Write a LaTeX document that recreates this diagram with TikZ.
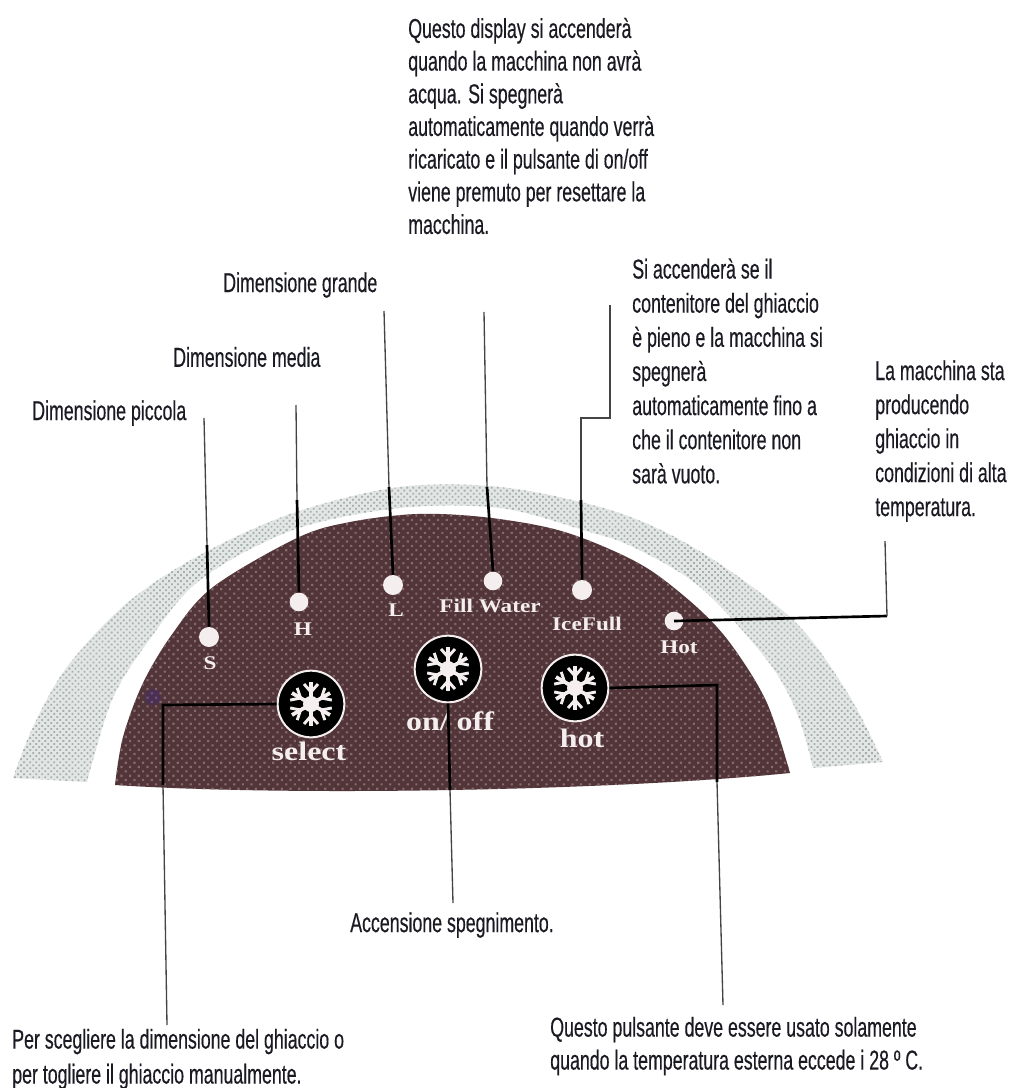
\documentclass[tikz,border=0pt]{standalone}
\usepackage{fontspec}
\usetikzlibrary{patterns.meta}
\setmainfont[FakeStretch=0.65,FakeBold=0.35]{Liberation Sans}
\newfontfamily\panelfont{Liberation Serif}[BoldFont={Liberation Serif Bold},BoldFeatures={FakeStretch=1.2},FakeStretch=1.2]
\definecolor{domecol}{HTML}{523539}
\definecolor{domedot}{HTML}{86696C}
\definecolor{arccol}{HTML}{E2E7E5}
\definecolor{arcdot}{HTML}{A6AFAC}
\definecolor{inkcol}{HTML}{1A1A22}
\definecolor{smudge}{HTML}{3F2590}
\definecolor{softwhite}{HTML}{F4EEEE}
\definecolor{thingrey}{HTML}{444444}
\tikzset{
  note/.style={anchor=west,inner sep=0pt,font=\fontsize{20.5}{20.5}\selectfont,text=inkcol},
  led/.style={circle,fill=softwhite,minimum size=15pt,inner sep=0pt},
  plabel/.style={inner sep=0pt,text=softwhite,font=\panelfont\bfseries\fontsize{14.5}{14.5}\selectfont},
  btnlabel/.style={inner sep=0pt,text=softwhite,font=\panelfont\bfseries\fontsize{20}{20}\selectfont},
  knob/.style={circle,fill=black,draw=softwhite,line width=1.5pt,minimum size=50pt,inner sep=0pt},
  wire/.style={draw=thingrey,line width=1pt},
  thickwire/.style={draw=black,line width=2pt},
  flake/.pic={
    \foreach \a in {0,60,...,300}{
      \draw[softwhite,line width=2.8pt,rotate=\a] (0,0) -- (0,22);
      \draw[softwhite,line width=2.2pt,rotate=\a] (-7,20) -- (0,12) -- (7,20);
    }
    \fill[softwhite] (0,0) circle (8);
  }
}
\def\arcshape{plot[smooth,tension=.55] coordinates {(13,778) (33,727) (67,667) (127,603) (200,555) (293,513) (400,487) (500,487) (600,507) (667,533) (733,573) (800,627) (850,697) (883,762)}
  -- plot[smooth,tension=.55] coordinates {(813,768) (797,713) (767,660) (700,587) (633,547) (583,530) (500,508) (400,508) (293,530) (200,580) (147,643) (112,700) (87,782)} -- cycle}
\def\domeshape{plot[smooth,tension=.55] coordinates {(115,785) (123,737) (143,683) (173,633) (213,587) (297,538) (350,522) (417,514) (483,517) (550,528) (600,545) (650,570) (700,610) (733,647) (767,703) (790,773)}
  .. controls (620,790) and (300,797) .. (115,785) -- cycle}
\begin{document}
\begin{tikzpicture}[x=0.75pt,y=-0.75pt]
\useasboundingbox (0,0) rectangle (1008,1088);
\fill[white] (0,0) rectangle (1008,1088);

% grey arc
\path[fill=arccol] \arcshape;
\path[pattern={Dots[distance=3.2pt,radius=0.95pt,angle=45]},pattern color=arcdot] \arcshape;

% dark dome
\path[fill=domecol] \domeshape;
\path[pattern={Dots[distance=4.6pt,radius=1.15pt,angle=45]},pattern color=domedot] \domeshape;
\fill[smudge,opacity=.3] (153,697) circle (8);

% LEDs
\node[led] (ledS) at (209,637) {};
\node[led,minimum size=14pt] (ledH) at (299,602) {};
\node[led] (ledL) at (393,585) {};
\node[led,minimum size=14pt] (ledW) at (493,581) {};
\node[led] (ledI) at (582,590) {};
\node[led,minimum size=14pt] (ledT) at (674,621) {};

% panel labels
\node[plabel] (lS) at (210,663) {S};
\node[plabel] (lH) at (303,629) {H};
\node[plabel] (lL) at (396,610) {L};
\node[plabel] (lW) at (490,606) {Fill Water};
\node[plabel] (lI) at (587,624) {IceFull};
\node[plabel] (lT) at (679,647) {Hot};

% buttons
\node[knob] (bS) at (311,704) {};
\node[knob] (bO) at (448,669) {};
\node[knob] (bH) at (575,688) {};
\pic at (bS) {flake};
\pic at (bO) {flake};
\pic at (bH) {flake};
\node[btnlabel] (tS) at (309,751) {select};
\node[btnlabel] (tO) at (450,721) {on/ off};
\node[btnlabel] (tH) at (582,738) {hot};

% notes
\node[note,align=left,font=\fontsize{20.5}{24.5}\selectfont] (nW) at (408,126) {Questo display si accenderà\\quando la macchina non avrà\\acqua. Si spegnerà\\automaticamente quando verrà\\ricaricato e il pulsante di on/off\\viene premuto per resettare la\\macchina.};
\node[note,align=left,font=\fontsize{20.5}{25.6}\selectfont] (nI) at (632,371) {Si accenderà se il\\contenitore del ghiaccio\\è pieno e la macchina si\\spegnerà\\automaticamente fino a\\che il contenitore non\\sarà vuoto.};
\node[note,align=left,font=\fontsize{20.5}{25.5}\selectfont] (nT) at (875,441) {La macchina sta\\producendo\\ghiaccio in\\condizioni di alta\\temperatura.};
\node[note] (nL) at (223,285) {Dimensione grande};
\node[note] (nM) at (173,357) {Dimensione media};
\node[note] (nP) at (32,413) {Dimensione piccola};
\node[note] (nO) at (350,925) {Accensione spegnimento.};
\node[note,align=left,font=\fontsize{20.5}{26.2}\selectfont] (nS) at (12,1059) {Per scegliere la dimensione del ghiaccio o\\per togliere il ghiaccio manualmente.};
\node[note,align=left,font=\fontsize{20.5}{24.7}\selectfont] (nH) at (550,1046) {Questo pulsante deve essere usato solamente\\quando la temperatura  esterna eccede i 28 º C.};

% free ends
\coordinate (eS) at (204,418);
\coordinate (eH) at (296,405);
\coordinate (eL) at (384,311);
\coordinate (eW) at (484,312);
\coordinate (eI) at (610,305);
\coordinate (eT) at (885,541);
\coordinate (eB) at (167,1025);
\coordinate (eO) at (453,903);
\coordinate (eC) at (723,1005);

% connectors: thin outside the panel, heavy where they cross it
\draw[wire] (eS) -- (207,545);
\draw[thickwire] (207,545) -- (ledS.north);
\draw[wire] (eH) -- (297,500);
\draw[thickwire] (297,500) -- (ledH.north);
\draw[wire] (eL) -- (389,487);
\draw[thickwire] (389,487) -- (ledL.north);
\draw[wire] (eW) -- (487,487);
\draw[thickwire] (487,487) -- (ledW.north);
\draw[wire] (eI) -- (610,418) -- (581,418) -- (581,500);
\draw[thickwire] (581,500) -- (ledI.north);
\draw[thickwire] (ledT.center) -- (887,616);
\draw[wire] (887,616) -- (eT);
\draw[thickwire] (bS.west) -- (163,705) -- (163,785);
\draw[wire] (163,785) -- (eB);
\draw[thickwire] (bO.south) -- (450,790);
\draw[wire] (450,790) -- (eO);
\draw[thickwire] (bH.east) -- (717,685) -- (717,782);
\draw[wire] (717,782) -- (eC);
\end{tikzpicture}
\end{document}
